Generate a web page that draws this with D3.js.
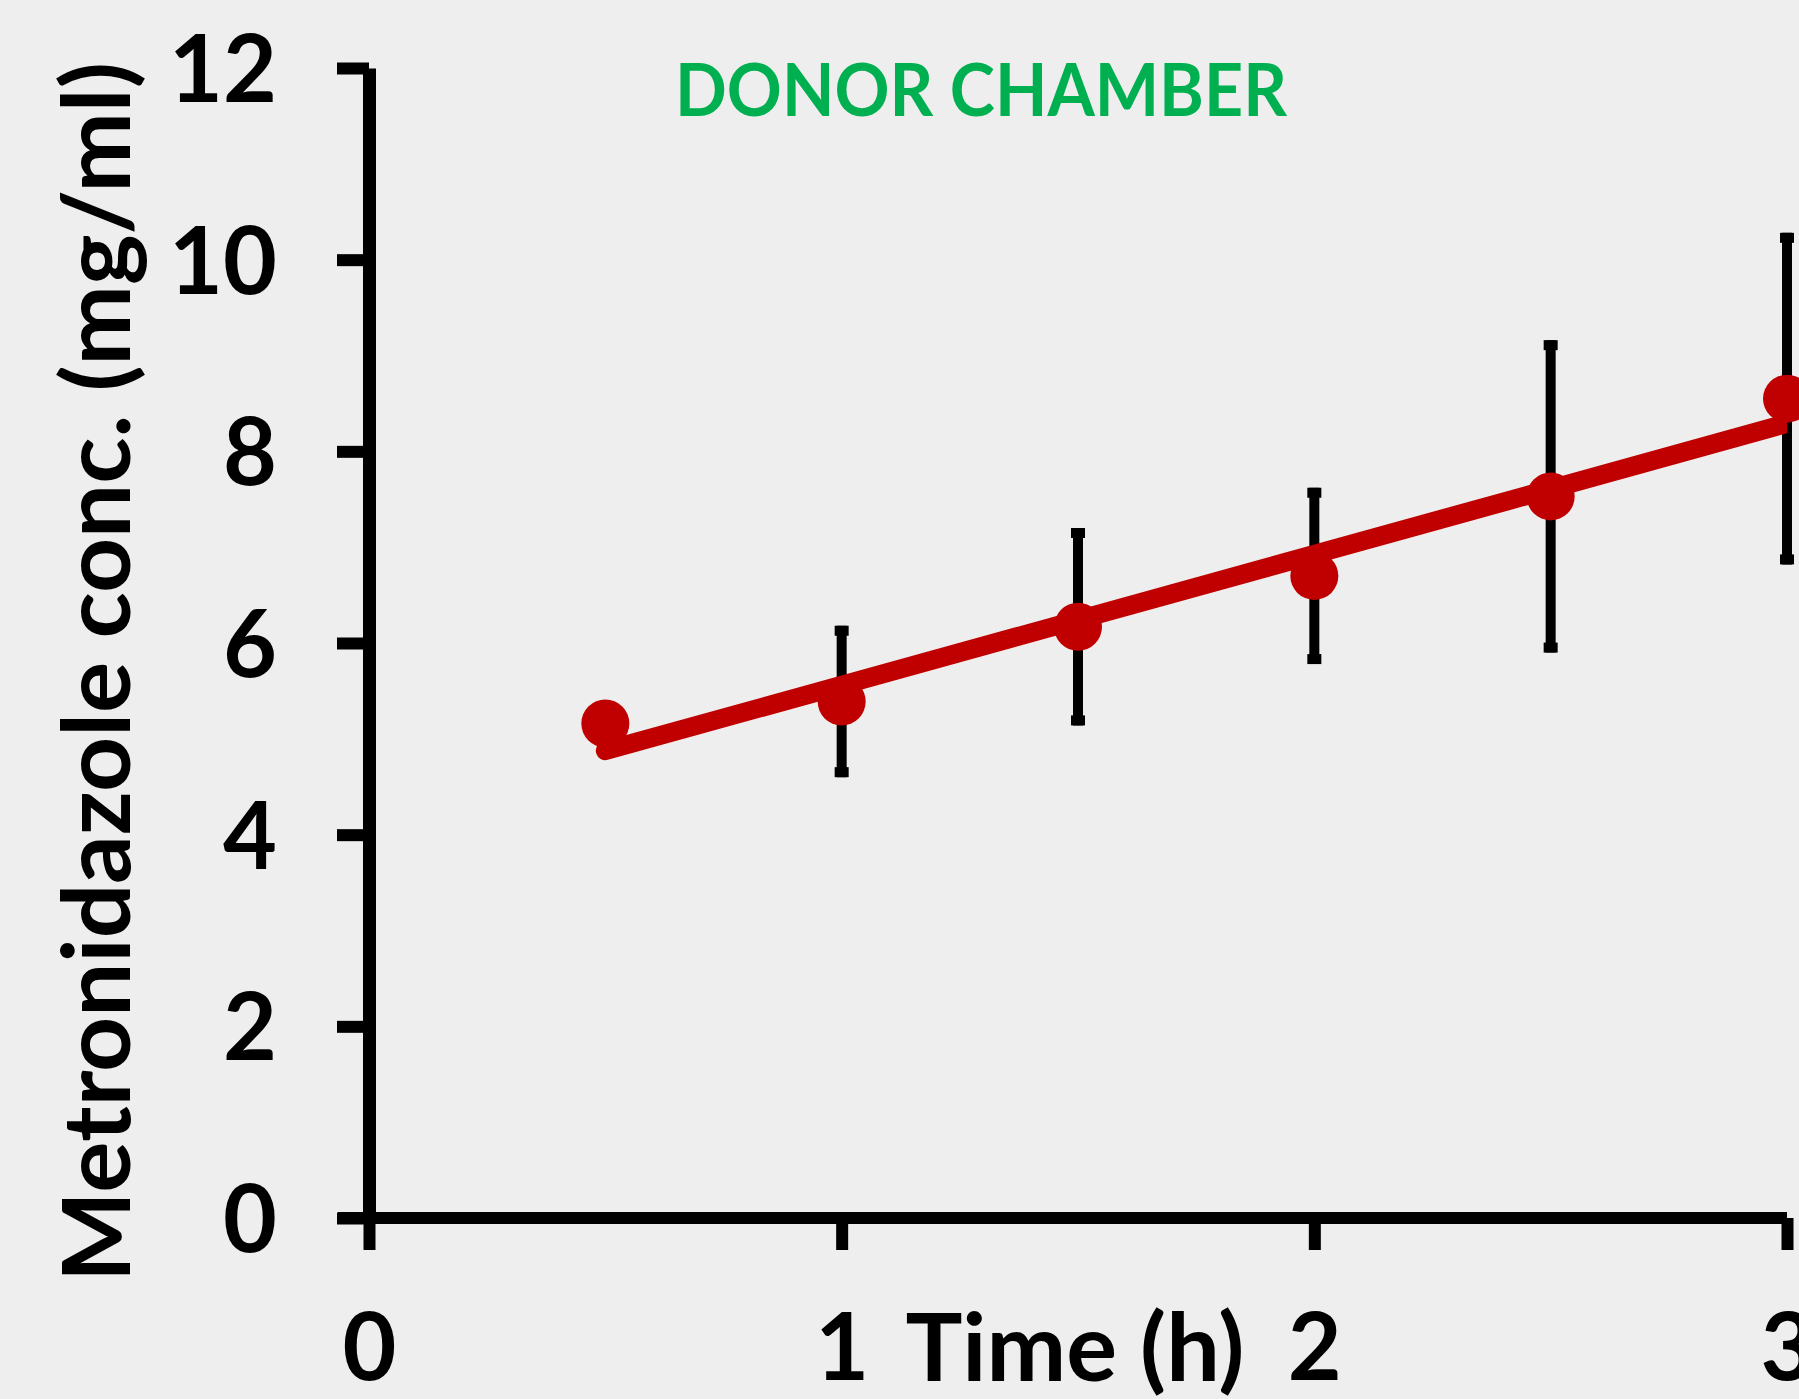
<!DOCTYPE html>
<html>
<head>
<meta charset="utf-8">
<script src="https://cdn.jsdelivr.net/npm/d3@7"></script>
<style>
  html, body { margin: 0; padding: 0; background: #eeeeee; overflow: hidden; }
  svg { display: block; }
  text { font-family: Lato, "Open Sans", sans-serif; font-weight: 700; }
</style>
</head>
<body>
<svg id="chart" width="1799" height="1399"></svg>
<script>
// Metronidazole concentration in the donor chamber over time
const timeHours = [0.5, 1.0, 1.5, 2.0, 2.5, 3.0];
const concMean = [5.16, 5.39, 6.17, 6.70, 7.53, 8.55];   // mg/ml
const concSD   = [0, 0.79, 1.03, 0.92, 1.63, 1.73];        // mg/ml
const xTicks = [0, 1, 2, 3];
const yTicks = [0, 2, 4, 6, 8, 10, 12];
const chartTitle = "DONOR CHAMBER";
const xTitle = "Time (h)";
const yTitle = "Metronidazole conc. (mg/ml)";

const W = 1799, H = 1399;
const red = "#C00000", green = "#00B050";

const svg = d3.select("#chart");
svg.append("rect").attr("width", W).attr("height", H).attr("fill", "#eeeeee");

const x = d3.scaleLinear().domain([0, 3]).range([369, 1787]);
const y = d3.scaleLinear().domain([0, 12]).range([1218, 68]);

// y axis
const yAxis = svg.append("g")
  .attr("transform", `translate(${x(0)},0)`)
  .call(d3.axisLeft(y).tickValues(yTicks).tickFormat(d3.format("d"))
        .tickSizeInner(32).tickSizeOuter(0).tickPadding(60));
yAxis.select(".domain").attr("stroke", "#000").attr("stroke-width", 13);
yAxis.selectAll(".tick line").attr("stroke", "#000").attr("stroke-width", 12);
yAxis.selectAll(".tick text")
  .attr("fill", "#000").attr("font-size", 93).attr("dy", "0.36em")
  .style("font-family", "Lato, sans-serif").style("font-weight", 700);

// x axis
const xAxis = svg.append("g")
  .attr("transform", `translate(0,${y(0)})`)
  .call(d3.axisBottom(x).tickValues(xTicks).tickFormat(d3.format("d"))
        .tickSizeInner(32).tickSizeOuter(0));
xAxis.select(".domain").attr("stroke", "#000").attr("stroke-width", 12)
  .attr("d", `M${x(0) - 31},0H${x(3)}`);
xAxis.selectAll(".tick line").attr("stroke", "#000").attr("stroke-width", 12);
xAxis.selectAll(".tick text")
  .attr("fill", "#000").attr("font-size", 93).attr("y", 162).attr("dy", 0)
  .style("font-family", "Lato, sans-serif").style("font-weight", 700);

// error bars
const bars = svg.append("g");
timeHours.forEach((t, i) => {
  const sd = concSD[i];
  if (!sd) return;
  const top = y(concMean[i] + sd), bot = y(concMean[i] - sd), cx = x(t);
  bars.append("line").attr("x1", cx).attr("x2", cx).attr("y1", top).attr("y2", bot)
    .attr("stroke", "#000").attr("stroke-width", 10);
  bars.append("rect").attr("x", cx - 7).attr("y", top).attr("width", 14).attr("height", 10).attr("fill", "#000");
  bars.append("rect").attr("x", cx - 7).attr("y", bot - 10).attr("width", 14).attr("height", 10).attr("fill", "#000");
});

// least-squares trend line
const mx = d3.mean(timeHours), my = d3.mean(concMean);
const slope = d3.sum(timeHours, (t, i) => (t - mx) * (concMean[i] - my)) /
              d3.sum(timeHours, t => (t - mx) * (t - mx));
const intercept = my - slope * mx;
const x0 = d3.min(timeHours), x1 = d3.max(timeHours);
svg.append("clipPath").attr("id", "plotClip")
  .append("rect").attr("x", 0).attr("y", 0).attr("width", x(3)).attr("height", H);
svg.append("path")
  .attr("clip-path", "url(#plotClip)")
  .attr("d", d3.line().x(d => x(d)).y(d => y(intercept + slope * d))([x0, x1]))
  .attr("fill", "none").attr("stroke", red).attr("stroke-width", 19)
  .attr("stroke-linecap", "round");

// data points
svg.append("g").selectAll("circle").data(timeHours).join("circle")
  .attr("cx", d => x(d)).attr("cy", (d, i) => y(concMean[i]))
  .attr("r", 24).attr("fill", red);

// titles
svg.append("text").attr("x", 981).attr("y", 116).attr("text-anchor", "middle")
  .attr("font-size", 72).attr("fill", green)
  .attr("textLength", 612).attr("lengthAdjust", "spacingAndGlyphs")
  .text(chartTitle);

svg.append("text").attr("x", 1075).attr("y", 1381).attr("text-anchor", "middle")
  .attr("font-size", 93).attr("fill", "#000")
  .attr("textLength", 339).attr("lengthAdjust", "spacingAndGlyphs")
  .text(xTitle);

svg.append("text")
  .attr("transform", "translate(130,672) rotate(-90)")
  .attr("text-anchor", "middle").attr("font-size", 93).attr("fill", "#000")
  .attr("textLength", 1220).attr("lengthAdjust", "spacingAndGlyphs")
  .text(yTitle);
</script>
</body>
</html>
